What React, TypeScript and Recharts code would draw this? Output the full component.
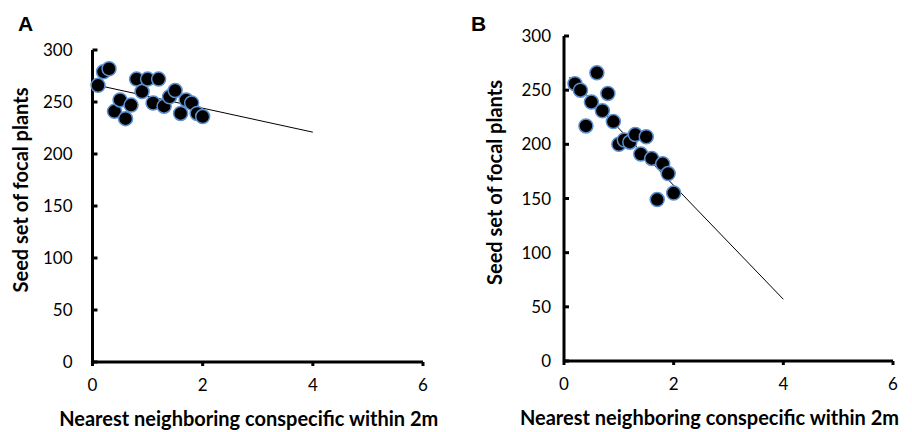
import { Label, Scatter, ScatterChart, XAxis, YAxis } from "recharts";

const xTicks = [0, 2, 4, 6];
const yTicks = [0, 50, 100, 150, 200, 250, 300];

// panel A: seed set vs distance to nearest conspecific
const seedA = [
  { x: 0.1, y: 266 }, { x: 0.2, y: 279 }, { x: 0.3, y: 282 }, { x: 0.4, y: 241 },
  { x: 0.5, y: 252 }, { x: 0.6, y: 234 }, { x: 0.7, y: 247 }, { x: 0.8, y: 272 },
  { x: 0.9, y: 260 }, { x: 1.0, y: 272 }, { x: 1.1, y: 249 }, { x: 1.2, y: 272 },
  { x: 1.3, y: 246 }, { x: 1.4, y: 255 }, { x: 1.5, y: 261 }, { x: 1.6, y: 239 },
  { x: 1.7, y: 252 }, { x: 1.8, y: 249 }, { x: 1.9, y: 239 }, { x: 2.0, y: 236 },
];
const fitA = [{ x: 0.1, y: 266 }, { x: 4, y: 221 }];

// panel B
const seedB = [
  { x: 0.2, y: 256 }, { x: 0.3, y: 250 }, { x: 0.4, y: 217 }, { x: 0.5, y: 239 },
  { x: 0.6, y: 266 }, { x: 0.7, y: 231 }, { x: 0.8, y: 247 }, { x: 0.9, y: 221 },
  { x: 1.0, y: 200 }, { x: 1.1, y: 204 }, { x: 1.2, y: 202 }, { x: 1.3, y: 209 },
  { x: 1.4, y: 191 }, { x: 1.5, y: 207 }, { x: 1.6, y: 187 }, { x: 1.7, y: 149 },
  { x: 1.8, y: 182 }, { x: 1.9, y: 173 }, { x: 2.0, y: 155 },
];
const fitB = [{ x: 0.1, y: 262 }, { x: 4, y: 57 }];

const FONT = "Lato, 'Open Sans', sans-serif";

const Dot = (props: { cx?: number; cy?: number }) => {
  const { cx = 0, cy = 0 } = props;
  return <circle cx={cx} cy={cy} r={7} fill="#000" stroke="#5b8fd0" strokeWidth={1.5} />;
};

interface PanelProps {
  letter: string;
  data: { x: number; y: number }[];
  fit: { x: number; y: number }[];
  left: number;
  top: number;
  right: number;
  bottom: number;
  tickGap: number;
  yLabelX: number;
  xLabelShift: number;
  letterX: number;
}

function Panel(p: PanelProps) {
  return (
    <div style={{ position: "relative", width: 456, height: 432 }}>
      <div
        style={{
          position: "absolute",
          left: p.letterX,
          top: 12,
          lineHeight: "24px",
          fontFamily: "'Liberation Sans', Arial, sans-serif",
          fontWeight: 700,
          fontSize: 21,
        }}
      >
        {p.letter}
      </div>
      <ScatterChart
        width={456}
        height={432}
        margin={{ top: p.top, right: p.right, bottom: 0, left: 0 }}
      >
        <XAxis
          type="number"
          dataKey="x"
          domain={[0, 6]}
          ticks={xTicks}
          height={432 - p.bottom}
          axisLine={{ stroke: "#000", strokeWidth: 3 }}
          tickLine={{ stroke: "#000", strokeWidth: 3 }}
          tickSize={4}
          tickMargin={13}
          tick={{ fill: "#000", fontSize: 17, fontFamily: FONT }}
        >
          <Label
            content={({ viewBox }: any) => (
              <text
                x={viewBox.x + viewBox.width / 2 + p.xLabelShift}
                y={viewBox.y + 56}
                textAnchor="middle"
                dominantBaseline="central"
                fontFamily={FONT}
                fontWeight={700}
                fontSize={20}
                fill="#000"
              >
                Nearest neighboring conspecific within 2m
              </text>
            )}
          />
        </XAxis>
        <YAxis
          type="number"
          dataKey="y"
          domain={[0, 300]}
          ticks={yTicks}
          width={p.left}
          axisLine={{ stroke: "#000", strokeWidth: 3 }}
          tickLine={{ stroke: "#000", strokeWidth: 3 }}
          tickSize={-5}
          tickMargin={p.tickGap + 5}
          tick={{ fill: "#000", fontSize: 17, fontFamily: FONT }}
        >
          <Label
            content={({ viewBox }: any) => {
              const cx = viewBox.x + p.yLabelX;
              const cy = viewBox.y + viewBox.height / 2 - 16;
              return (
                <text
                  x={cx}
                  y={cy}
                  transform={`rotate(-90 ${cx} ${cy})`}
                  textAnchor="middle"
                  dominantBaseline="central"
                  fontFamily={FONT}
                  fontWeight={700}
                  fontSize={20}
                  fill="#000"
                >
                  Seed set of focal plants
                </text>
              );
            }}
          />
        </YAxis>
        <Scatter
          data={p.fit}
          line={{ stroke: "#000", strokeWidth: 1 }}
          shape={() => null}
          isAnimationActive={false}
        />
        <Scatter data={p.data} shape={<Dot />} isAnimationActive={false} />
      </ScatterChart>
    </div>
  );
}

export default function App() {
  return (
    <div
      style={{
        position: "absolute",
        left: 0,
        top: 0,
        width: 912,
        height: 432,
        background: "#fff",
        display: "flex",
      }}
    >
      <Panel
        letter="A"
        data={seedA}
        fit={fitA}
        left={92.5}
        top={50}
        right={33}
        bottom={362}
        tickGap={20}
        yLabelX={20}
        xLabelShift={-9}
        letterX={18}
      />
      <Panel
        letter="B"
        data={seedB}
        fit={fitB}
        left={108}
        top={36}
        right={19}
        bottom={361}
        tickGap={13}
        yLabelX={38}
        xLabelShift={-19}
        letterX={15}
      />
    </div>
  );
}
